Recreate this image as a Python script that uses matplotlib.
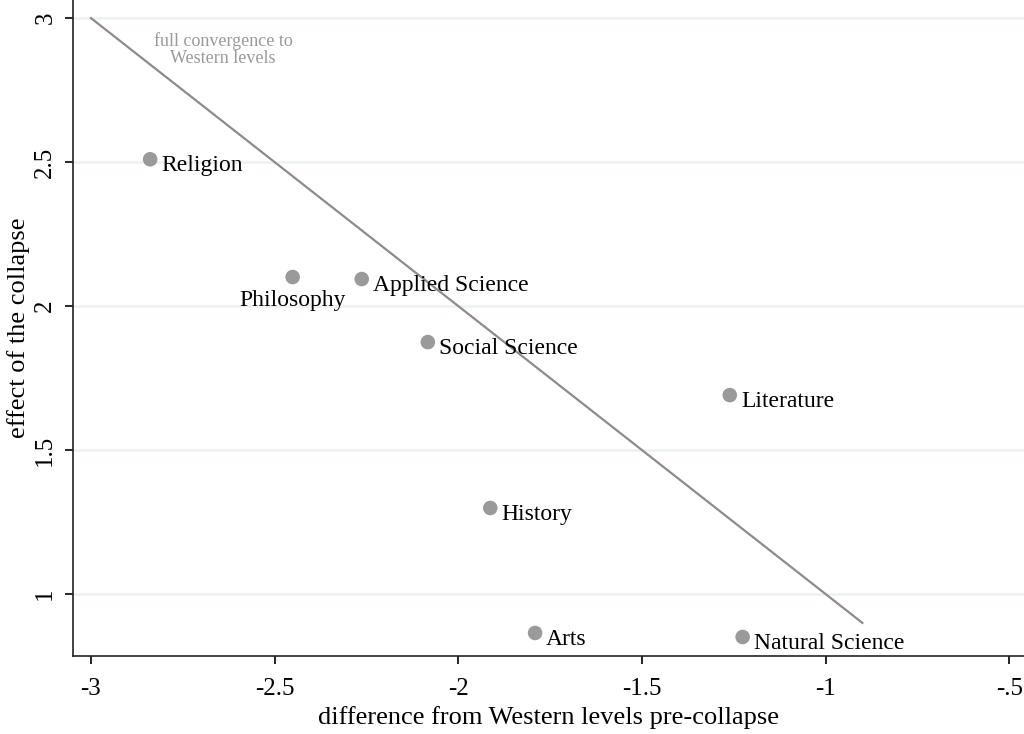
import numpy as np
import matplotlib
matplotlib.use("Agg")
import matplotlib.pyplot as plt

# - DATA - #
fields = ["Religion", "Philosophy", "Applied Science", "Social Science",
          "Literature", "History", "Arts", "Natural Science"]
diff_pre = [-2.839, -2.451, -2.263, -2.083, -1.261, -1.913, -1.791, -1.226]
effect = [2.51, 2.101, 2.094, 1.875, 1.691, 1.299, 0.865, 0.851]
# label position: "r" right of marker, "b" below
label_pos = ["r", "b", "r", "r", "r", "r", "r", "r"]
conv_x = [-3.0, -0.9]
conv_y = [-x for x in conv_x]  # full convergence: effect = -difference

xticks = [-3, -2.5, -2, -1.5, -1, -0.5]
xticklabels = ["-3", "-2.5", "-2", "-1.5", "-1", "-.5"]
yticks = [1, 1.5, 2, 2.5, 3]
yticklabels = ["1", "1.5", "2", "2.5", "3"]

plt.rcParams['font.family'] = ['Liberation Serif', 'DejaVu Serif']

fig = plt.figure(figsize=(10.24, 7.34), dpi=100)
ax = fig.add_axes([73/1024, 1-656/734, 1-73/1024, 656/734])

# gridlines
for yv in yticks:
    ax.axhline(yv, color="#ebf2f4", lw=1.8, zorder=0)

ax.plot(conv_x, conv_y, color="#8c8c8c", lw=1.6, zorder=2)
ax.text(-2.64, 2.89, "full convergence to\nWestern levels", color="#999999",
        fontsize=13, ha="center", va="center", linespacing=1.0)

ax.scatter(diff_pre, effect, s=110, color="#9a9a9a", edgecolors="none", zorder=3)
for name, xv, yv, pos in zip(fields, diff_pre, effect, label_pos):
    if pos == "r":
        ax.annotate(name, (xv, yv), xytext=(8, -4.5), textcoords="offset points",
                    ha="left", va="center", fontsize=17, color="black")
    else:
        ax.annotate(name, (xv, yv), xytext=(0, -9), textcoords="offset points",
                    ha="center", va="top", fontsize=17, color="black")

ax.set_xlim(-3.049, -0.46)
ax.set_ylim(0.785, 3.063)
ax.set_xticks(xticks)
ax.set_xticklabels(xticklabels)
ax.set_yticks(yticks)
ax.set_yticklabels(yticklabels, rotation=90, va="center")
ax.tick_params(direction="out", length=6, width=1.2, labelsize=18, colors="black")
ax.tick_params(axis="x", pad=10)
ax.tick_params(axis="y", pad=6)
for s in ["top", "right"]:
    ax.spines[s].set_visible(False)
for s in ["left", "bottom"]:
    ax.spines[s].set_linewidth(1.2)
    ax.spines[s].set_color("#222222")

ax.set_xlabel("difference from Western levels pre-collapse", fontsize=19, labelpad=4)
ax.set_ylabel("effect of the collapse", fontsize=19, labelpad=3)

plt.savefig("out.png", dpi=100)
